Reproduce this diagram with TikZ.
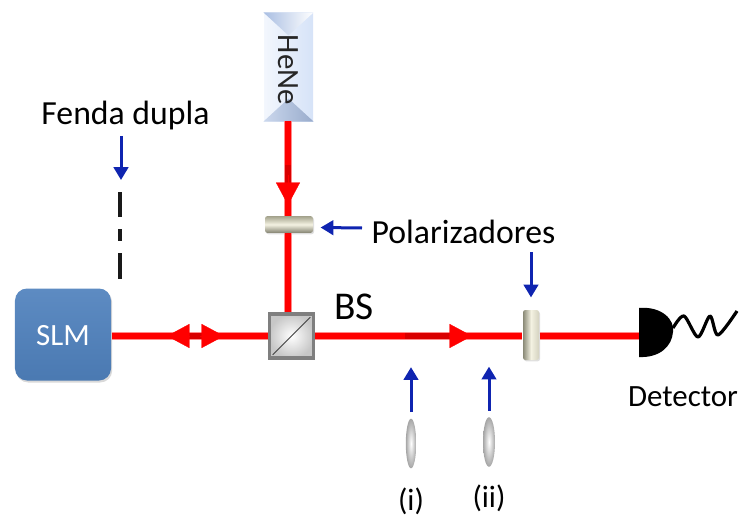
\documentclass[tikz,border=0pt]{standalone}
\usepackage{fontspec}
\setmainfont{Carlito}
\usetikzlibrary{arrows.meta,shapes.geometric,shadows,calc}
\definecolor{slmblue}{HTML}{4F81BD}
\definecolor{ptrblue}{HTML}{0F24B0}
\definecolor{cream}{HTML}{F4F2E2}
\definecolor{khaki}{HTML}{A3A28C}
\definecolor{cubegray}{HTML}{7F7F7F}
\definecolor{heneface}{HTML}{D6E3F8}
\definecolor{henedark}{HTML}{A9BEE2}
\begin{document}
\begin{tikzpicture}[x=0.25mm,y=-0.25mm,line width=0.8pt,>=Stealth]
\tikzset{beam/.style={draw=red,line width=1.45mm,preaction={draw=red!45,line width=2.0mm}},
  beamtip/.style={draw=red,line width=0.2pt,-{Triangle[length=5.6mm,width=6mm,fill=red]}},
  beamcore/.style={draw=red!85!black,line width=1.6mm},
  ptr/.style={draw=ptrblue,line width=0.75mm,-{Triangle[length=3.2mm,width=3.6mm,fill=ptrblue]}},
  polar/.style={draw=none,rounded corners=0.6mm,inner sep=0pt,drop shadow={shadow xshift=0.25mm,shadow yshift=-0.35mm,opacity=0.25}},
  lens/.style={ellipse,draw=none,inner sep=0pt,minimum width=2.6mm,minimum height=12.4mm,inner color=white,outer color=black!35},
  slit/.style={draw=black!90,line width=1.2mm},
  lbl/.style={inner sep=0pt,font=\fontsize{24}{26}\selectfont},
  small/.style={inner sep=0pt,font=\fontsize{22}{24}\selectfont}}
\useasboundingbox (0,0) rectangle (740,516);
% ---------- components ----------
\node[draw=none,inner sep=0pt,minimum width=12.25mm,minimum height=27mm,left color=white!70!heneface,right color=heneface] (hene) at (288.5,67) {};
\node[draw=none,inner sep=0pt,minimum width=24mm,minimum height=23mm,rounded corners=3mm,top color=slmblue!92!white,bottom color=slmblue!94!black,
  drop shadow={shadow xshift=0.3mm,shadow yshift=-0.5mm,opacity=0.3}] (slm) at (63,334.5) {};
\node[draw=cubegray,line width=0.9mm,inner sep=0pt,minimum size=11mm,inner color=white,outer color=black!22] (cube) at (291.5,336) {};
\node[polar,minimum width=12mm,minimum height=4.2mm,top color=khaki,bottom color=khaki!80!black,middle color=cream] (polA) at (289,224.5) {};
\node[polar,minimum width=4mm,minimum height=12.5mm,left color=khaki!85!black,right color=cream!60!khaki,middle color=cream] (polB) at (531,335) {};
\node[lens] (lensA) at (411,443.5) {};
\node[lens,minimum width=3mm] (lensB) at (489,442) {};
\coordinate (det) at (639,336);
% bevel of the HeNe box
\shade[left color=henedark,right color=white] (hene.north west) -- (hene.north east) -- ($(hene.north)+(0,23)$) -- cycle;
\shade[left color=henedark!60!white,right color=henedark!90!black] (hene.south west) -- (hene.south east) -- ($(hene.south)+(0,-23)$) -- cycle;
\node[rotate=-90,lbl,font=\fontsize{22}{24}\selectfont,black!85] (heneTxt) at (288,70) {HeNe};
\node[lbl,font=\fontsize{22}{24}\selectfont,white] (slmTxt) at (63,336) {SLM};
% cube diagonal
\draw[black!75,line width=0.25mm] ($(cube.south west)+(5,-5)$) -- ($(cube.north east)+(-5,5)$);
% ---------- beams ----------
\draw[beam] (288,121) -- (288,216);
\draw[beam] (288,233) -- (288,312);
\draw[beam] (slm.east |- cube.west) -- (cube.west);
\draw[beam] (cube.east) -- (polB.west |- cube.east);
\draw[beam] (polB.east |- cube.east) -- (det);
% arrows on the beams
\coordinate (tipH) at (288,205);
\draw[beamcore] (288,165) -- (288,190);
\draw[beamtip] (288,175) -- (tipH);
\coordinate (tipL) at (167,336);
\coordinate (tipR) at (224,336);
\draw[beamcore] (187,336) -- (205,336);
\draw[beamtip] (190,336) -- (tipL);
\draw[beamtip] (200,336) -- (tipR);
\coordinate (tipF) at (472,336);
\draw[beamcore] (405,336) -- (452,336);
\draw[beamtip] (449,336) -- (tipF);
% ---------- detector ----------
\fill[black] (639,308) .. controls (662,306) and (675,320) .. (673,332) .. controls (672,346) and (660,358) .. (639,357) -- cycle;
\draw[line width=0.8mm,black,line join=round] plot[smooth,tension=0.5] coordinates {(673,328) (684,316) (698,337) (710,316) (718,335) (737,311)};
% ---------- double slit ----------
\coordinate (slitTop) at (120,192);
\draw[slit] (slitTop) -- (120,217);
\draw[slit] (120,229) -- (120,241);
\draw[slit] (120,253) -- (120,279);
% ---------- labels ----------
\node[lbl] (fenda) at (125.5,116) {Fenda dupla};
\node[lbl,anchor=west] (polTxt) at (371,232) {Polarizadores};
\node[lbl,font=\fontsize{28}{30}\selectfont] (bsTxt) at (354,307) {BS};
\node[small] (detTxt) at (683,397) {Detector};
\node[small] (iTxt) at (411,501) {(i)};
\node[small] (iiTxt) at (489,498) {(ii)};
% ---------- pointers ----------
\draw[ptr] (121,136) -- (121,180);
\draw[ptr] ($(polTxt.west)+(-9,-4)$) -- ($(polA.east)+(7,3)$);
\draw[ptr] ($(polB.north)+(0,-57)$) -- ($(polB.north)+(0,-12)$);
\draw[ptr] ($(lensA.north)+(0,-6)$) -- ($(lensA.north)+(0,-51)$);
\draw[ptr] ($(lensB.north)+(0,-6)$) -- ($(lensB.north)+(0,-50)$);
\end{tikzpicture}
\end{document}
